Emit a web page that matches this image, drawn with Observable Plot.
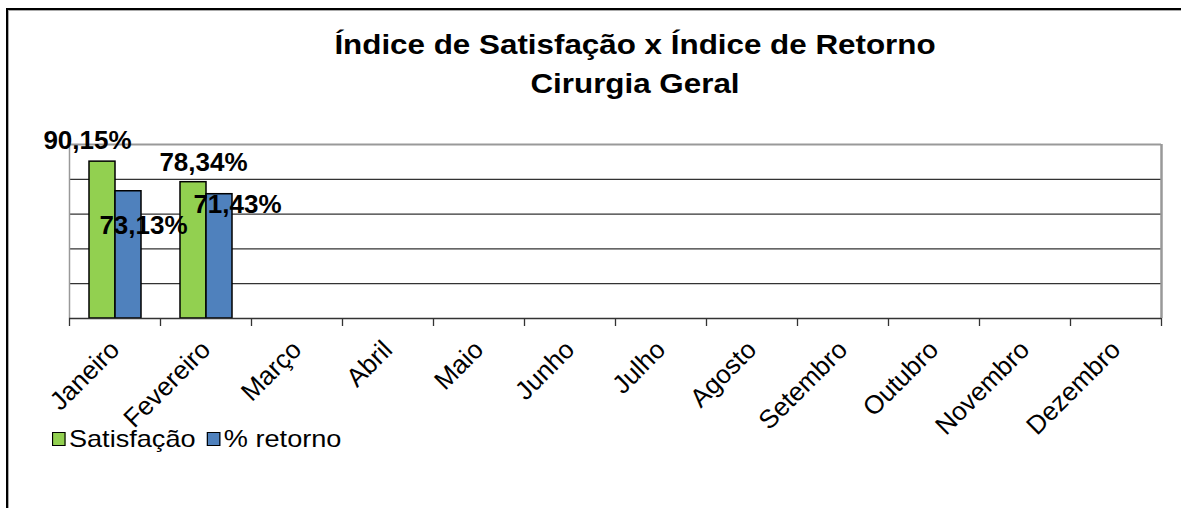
<!DOCTYPE html>
<html>
<head>
<meta charset="utf-8">
<script src="https://cdn.jsdelivr.net/npm/d3@7"></script>
<script src="https://cdn.jsdelivr.net/npm/@observablehq/plot@0.6"></script>
<style>
  html, body { margin: 0; padding: 0; background: #fff; }
  #wrap { position: relative; width: 1181px; height: 508px; overflow: hidden; font-family: "Liberation Sans", Arial, sans-serif; }
  #frame { position: absolute; left: 6px; top: 8px; width: 1200px; height: 520px; border-left: 2px solid #000; border-top: 2px solid #000; box-shadow: inset 1px 1px 0 #aaa; }
  #title { position: absolute; left: 0; width: 1270px; top: 25px; text-align: center; font-weight: bold; font-size: 28px; line-height: 39px; color: #000; transform: scaleX(1.12); transform-origin: 635px 0; }
  #legend { position: absolute; left: 52px; top: 425px; font-size: 24px; color: #000; display: flex; align-items: center; transform: scaleX(1.13); transform-origin: 0 0; }
  .sw { display: inline-block; width: 10px; height: 12px; border: 1.5px solid #000; margin-right: 3px; }
  .item { display: flex; align-items: center; margin-right: 10px; }
  #plot { position: absolute; left: 0; top: 0; }
</style>
</head>
<body>
<div id="wrap">
  <div id="frame"></div>
  <div id="plot"></div>
  <div id="title">Índice de Satisfação x Índice de Retorno<br>Cirurgia Geral</div>
  <div id="legend"></div>
</div>
<script>
const months = ["Janeiro","Fevereiro","Março","Abril","Maio","Junho","Julho","Agosto","Setembro","Outubro","Novembro","Dezembro"];
const seriesNames = ["Satisfação","% retorno"];
const satisfacao = [90.15, 78.34, null, null, null, null, null, null, null, null, null, null];
const retorno = [73.13, 71.43, null, null, null, null, null, null, null, null, null, null];
const colors = ["#92D050", "#4F81BD"];

const fmt = v => v.toFixed(2).replace(".", ",") + "%";
const satData = months.map((m, i) => ({month: m, i, value: satisfacao[i]})).filter(d => d.value != null);
const retData = months.map((m, i) => ({month: m, i, value: retorno[i]})).filter(d => d.value != null);

const labelFont = {fontSize: 26, fontWeight: "bold", fill: "#000", textAnchor: "middle", lineAnchor: "middle"};

const chart = Plot.plot({
  width: 1181,
  height: 508,
  marginLeft: 69,
  marginRight: 20,
  marginTop: 144,
  marginBottom: 190,
  style: {fontFamily: "'Liberation Sans', Arial, sans-serif", background: "transparent", overflow: "visible"},
  x: {type: "linear", domain: [0, 12], axis: null},
  y: {domain: [0, 100], axis: null},
  marks: [
    Plot.ruleY([20, 40, 60, 80], {stroke: "#333", strokeWidth: 1.3}),
    Plot.ruleY([100], {stroke: "#999", strokeWidth: 2}),
    Plot.ruleX([0], {y1: 0, y2: 100, stroke: "#999", strokeWidth: 1.5}),
    Plot.ruleX([12], {y1: 0, y2: 100, stroke: "#999", strokeWidth: 2.5}),
    Plot.rectY(satData, {x1: "i", x2: d => d.i + 1, y: "value", fill: colors[0], stroke: "#000", strokeWidth: 1.5, insetLeft: 20, insetRight: 45}),
    Plot.rectY(retData, {x1: "i", x2: d => d.i + 1, y: "value", fill: colors[1], stroke: "#000", strokeWidth: 1.5, insetLeft: 46, insetRight: 19}),
    Plot.ruleY([0], {stroke: "#333", strokeWidth: 1.5}),
    Plot.axisX(d3.range(13), {tickSize: 8, tickFormat: () => "", stroke: "#333", strokeWidth: 1.3, label: null}),
    Plot.axisX(d3.range(12).map(i => i + 0.5), {tickSize: 0, tickRotate: -45, tickPadding: 27, tickFormat: d => months[Math.floor(d)], fontSize: 26, fill: "#000", label: null}),
    Plot.text(satData.filter(d => d.i === 0), {x: "i", y: "value", text: d => fmt(d.value), dx: 18, dy: -21, ...labelFont}),
    Plot.text(retData.filter(d => d.i === 0), {x: "i", y: "value", text: d => fmt(d.value), dx: 74, dy: 34, ...labelFont}),
    Plot.text(satData.filter(d => d.i === 1), {x: "i", y: "value", text: d => fmt(d.value), dx: 43, dy: -20, ...labelFont}),
    Plot.text(retData.filter(d => d.i === 1), {x: "i", y: "value", text: d => fmt(d.value), dx: 77, dy: 10, ...labelFont})
  ]
});
document.getElementById("plot").appendChild(chart);

const legend = document.getElementById("legend");
seriesNames.forEach((name, k) => {
  const item = document.createElement("span");
  item.className = "item";
  const sw = document.createElement("span");
  sw.className = "sw";
  sw.style.background = colors[k];
  item.appendChild(sw);
  item.appendChild(document.createTextNode(name));
  legend.appendChild(item);
});
</script>
</body>
</html>
